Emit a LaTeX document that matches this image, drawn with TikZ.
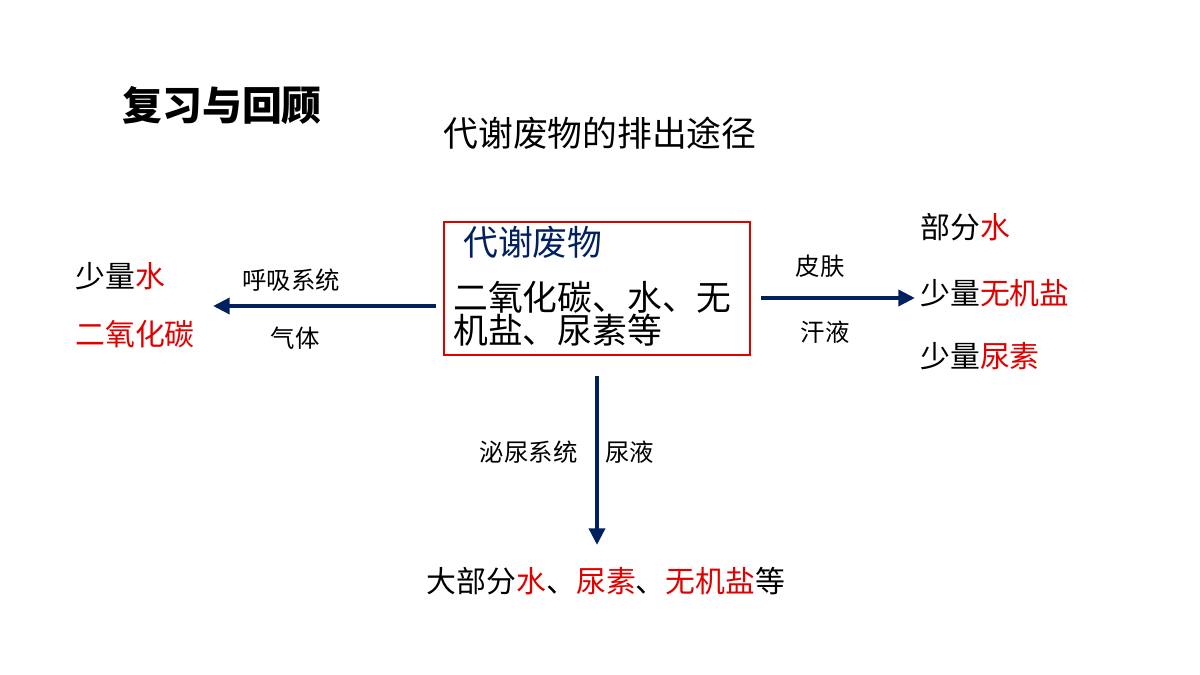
\documentclass[tikz,border=0pt]{standalone}
\usepackage{fontspec}
\setmainfont{Noto Sans CJK SC}
\usetikzlibrary{arrows.meta}
\definecolor{navy}{RGB}{0,32,96}
\definecolor{hotred}{RGB}{224,0,0}
\newcommand{\hl}[1]{\textcolor{hotred}{#1}}

\begin{document}
\begin{tikzpicture}[x=0.02cm, y=-0.02cm,
  lbl/.style={inner sep=0pt, anchor=west},
  big/.style={font=\fontsize{19.8pt}{24pt}\selectfont},
  mid/.style={font=\fontsize{17pt}{20pt}\selectfont},
  small/.style={font=\fontsize{13.9pt}{17pt}\selectfont},
  flow/.style={draw=navy, line width=2.3pt, -{Triangle[length=9.5pt,width=9pt]}}]
\useasboundingbox (0,0) rectangle (1200,675);
% headings
\node (title) at (122,106) [lbl, font=\bfseries\fontsize{22.7pt}{27pt}\selectfont] {复习与回顾};
\node (subtitle) at (600,133) [big, inner sep=0pt] {代谢废物的排出途径};
% centre box
\node (box) at (597,288.5) [draw=hotred, line width=1.1pt, minimum width=6.12cm, minimum height=2.66cm] {};
\node (boxhead) at (463,242) [lbl, big, text=navy] {代谢废物};
\node (boxline1) at (453,297) [lbl, big] {二氧化碳、水、无};
\node (boxline2) at (453,330) [lbl, big] {机盐、尿素等};
% left: lungs
\coordinate (lungEnd) at (213,306);
\draw [flow, shorten <=0.14cm] (box.west |- lungEnd) -- (lungEnd);
\node (lungTop) at (291,280) [small, inner sep=0pt] {呼吸系统};
\node (lungBot) at (295,338) [small, inner sep=0pt] {气体};
\node (lungOut1) at (75,276) [lbl, mid] {少量\hl{水}};
\node (lungOut2) at (75,334) [lbl, mid] {\hl{二氧化碳}};
% right: skin
\coordinate (skinEnd) at (915,298);
\draw [flow, shorten <=0.2cm] (box.east |- skinEnd) -- (skinEnd);
\node (skinTop) at (820,266) [small, inner sep=0pt] {皮肤};
\node (skinBot) at (825,332) [small, inner sep=0pt] {汗液};
\node (skinOut1) at (920,227) [lbl, mid] {部分\hl{水}};
\node (skinOut2) at (920,293) [lbl, mid] {少量\hl{无机盐}};
\node (skinOut3) at (920,356) [lbl, mid] {少量\hl{尿素}};
% bottom: kidneys
\coordinate (urineEnd) at (597,545);
\draw [flow, shorten <=0.4cm] (box.south) -- (urineEnd);
\node (urineLeft) at (578,452) [small, inner sep=0pt, anchor=east] {泌尿系统};
\node (urineRight) at (605,452) [lbl, small] {尿液};
\node (urineOut) at (606,581) [mid, inner sep=0pt] {大部分\hl{水}、\hl{尿素}、\hl{无机盐}等};
\end{tikzpicture}
\end{document}
